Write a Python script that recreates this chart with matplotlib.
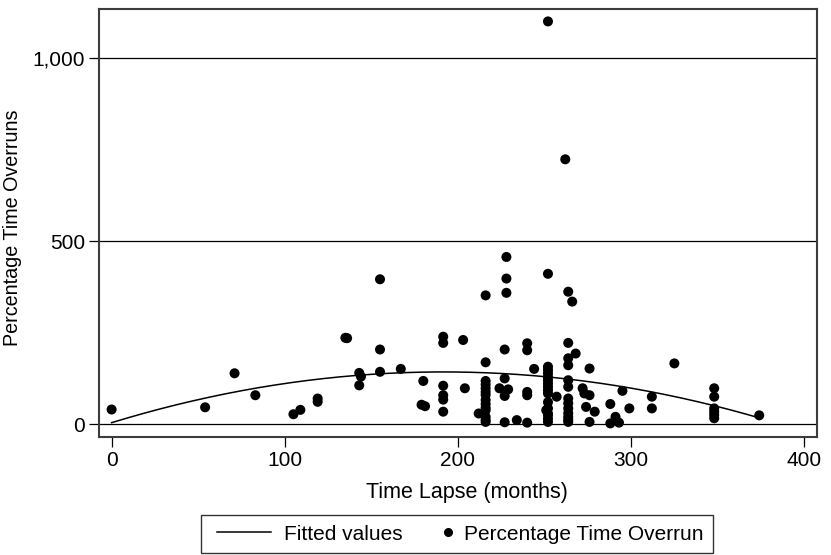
import numpy as np
import matplotlib
matplotlib.use("Agg")
import matplotlib.pyplot as plt
from matplotlib.ticker import FuncFormatter
from matplotlib.legend_handler import HandlerBase
from matplotlib.lines import Line2D

plt.rcParams['font.family'] = ['Liberation Sans', 'DejaVu Sans']

# time lapse (months) and percentage time overrun
months = [0, 54, 71, 83, 105, 109, 119, 119, 135, 136,
          143, 144, 143, 155, 155, 155, 167, 180, 179, 181,
          191.5, 191.5, 191.5, 191.5, 191.5, 191.5, 203, 204,
          216, 216, 216, 216, 216, 216, 216, 216, 216, 216, 212, 216, 216,
          216, 216,
          228, 228, 228, 227, 227, 224, 229, 227, 227,
          240, 240, 240, 240, 234, 240, 244,
          252, 252, 252, 252, 252, 252, 252, 252, 252, 252, 252, 257,
          252, 251, 252, 252, 252, 252, 252,
          262, 263.7, 266, 263.7, 268, 263.7, 263.7, 263.7, 263.7,
          263.7, 263.7, 263.7, 263.7, 263.7, 263.7, 263.7,
          272, 273, 276, 276, 274, 279, 276,
          288, 288, 291, 293, 295, 299, 312, 312, 325,
          348, 348, 348, 348, 348, 348, 374]
overrun = [40, 46, 139, 79, 27, 39, 70, 61, 236, 235,
           140, 130, 106, 396, 204, 143, 151, 118, 53, 49,
           239, 222, 105, 79, 67, 34, 230, 98,
           352, 169, 118, 108, 98, 66, 55, 45, 20, 6, 29, 80, 88,
           12, 38,
           457, 398, 359, 204, 125, 98, 95, 77, 5,
           221, 202, 88, 79, 11, 4, 151,
           1101, 411, 157, 148, 139, 129, 120, 111, 102, 93, 84, 75,
           43, 38, 29, 6, 60, 15, 25,
           724, 362, 335, 222, 193, 180, 161, 120, 102,
           70, 57, 43, 20, 6, 12, 30,
           98, 84, 79, 152, 47, 34, 6,
           55, 2, 20, 4, 91, 43, 75, 43, 166,
           98, 75, 43, 34, 25, 16, 24]

x = np.array(months, dtype=float)
y = np.array(overrun, dtype=float)

# quadratic fit, as in the original "Fitted values"
coef = np.polyfit(x, y, 2)
xfit = np.linspace(x.min(), x.max(), 200)
yfit = np.polyval(coef, xfit)


class LineHandler(HandlerBase):
    # short line that starts a bit in from the left of the handle box
    def create_artists(self, legend, orig_handle, xdescent, ydescent,
                       width, height, fontsize, trans):
        yc = height / 2 - ydescent
        l = Line2D([-xdescent + 0.107 * width, -xdescent + width], [yc, yc],
                   color='black', lw=1.1)
        l.set_transform(trans)
        return [l]


class DotHandler(HandlerBase):
    # single dot sitting at the right end of the handle box
    def create_artists(self, legend, orig_handle, xdescent, ydescent,
                       width, height, fontsize, trans):
        yc = height / 2 - ydescent
        d = Line2D([-xdescent + width - 2], [yc], marker='o', ms=5.5,
                   color='black', ls='none')
        d.set_transform(trans)
        return [d]


fig = plt.figure(figsize=(8.31, 5.55), dpi=100)
ax = fig.add_axes([0.1191, 0.2121, 0.8637, 0.7717])

for g in [0, 500, 1000]:
    ax.axhline(g, color='black', lw=0.9, zorder=1)

ln, = ax.plot(xfit, yfit, color='black', lw=1.1, zorder=3, label='Fitted values')
sc = ax.scatter(x, y, s=52, color='black', edgecolors='none', zorder=4,
                label='Percentage Time Overrun')

ax.set_xlim(-7.3, 407.2)
ax.set_ylim(-36, 1135)
ax.set_xticks([0, 100, 200, 300, 400])
ax.set_yticks([0, 500, 1000])
ax.yaxis.set_major_formatter(FuncFormatter(lambda v, p: '{:,.0f}'.format(v)))
ax.tick_params(axis='both', direction='out', length=7, width=0.9, color='black',
               labelsize=15, pad=3)

for s in ax.spines.values():
    s.set_color('#3c3c3c')
    s.set_linewidth(1.5)

ax.set_xlabel('Time Lapse (months)', fontsize=15.5)
ax.xaxis.set_label_coords(0.513, -0.105)
ax.set_ylabel('Percentage Time Overruns', fontsize=14.2)
ax.yaxis.set_label_coords(-0.107, 0.49)

leg = fig.legend(handles=[ln, sc], loc='center', ncol=2,
                 bbox_to_anchor=(457 / 831, 1 - 534 / 555),
                 handler_map={ln: LineHandler(), sc: DotHandler()},
                 fontsize=15, frameon=True, fancybox=False,
                 handlelength=2.9, columnspacing=-0.6,
                 borderpad=0.45, handletextpad=0.62)
leg.get_frame().set_edgecolor('black')
leg.get_frame().set_linewidth(1.0)

fig.savefig('out.png', dpi=100)
